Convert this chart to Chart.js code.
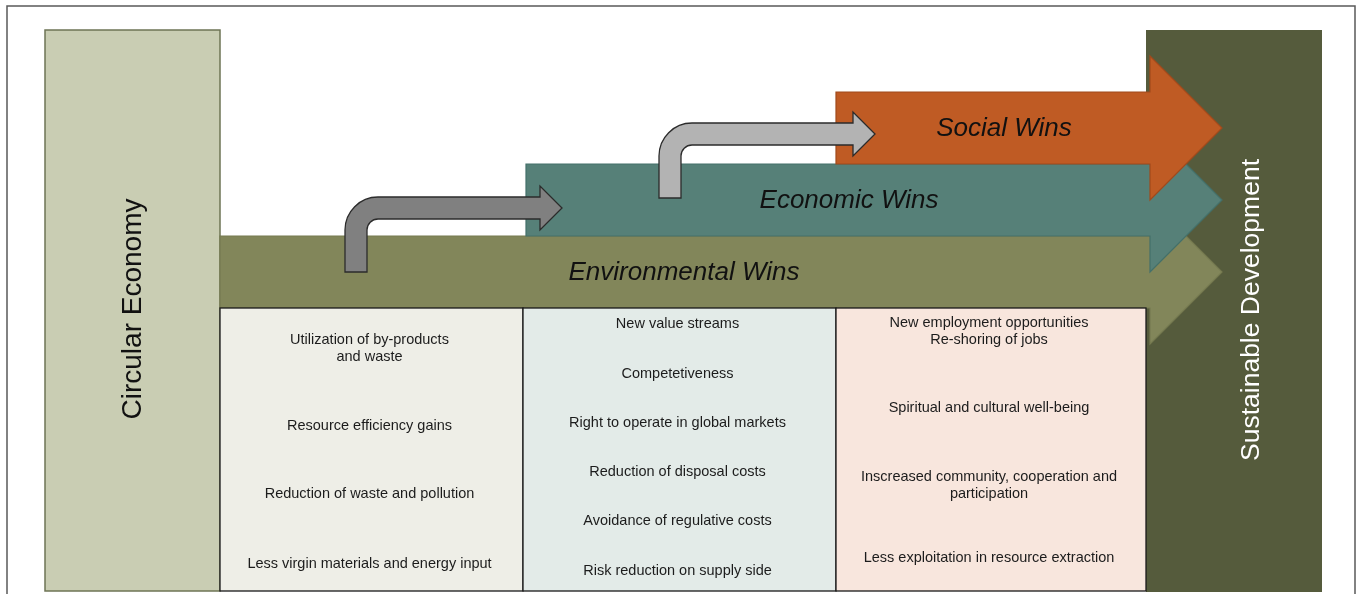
<!DOCTYPE html>
<html>
<head>
<meta charset="utf-8">
<script src="https://cdn.jsdelivr.net/npm/chart.js@4/dist/chart.umd.min.js"></script>
<style>
  html, body { margin: 0; padding: 0; background: #ffffff; }
  #wrap { width: 1357px; height: 594px; position: relative; }
</style>
</head>
<body>
<div id="wrap"><canvas id="myChart"></canvas></div>
<script>
// textos del diagrama
const sideLabels = ['Circular Economy', 'Sustainable Development']
const winLabels = ['Environmental Wins', 'Economic Wins', 'Social Wins']

const environmentalItems = [
    'Utilization of by-products\nand waste',
    'Resource efficiency gains',
    'Reduction of waste and pollution',
    'Less virgin materials and energy input'
]
const economicItems = [
    'New value streams',
    'Competetiveness',
    'Right to operate in global markets',
    'Reduction of disposal costs',
    'Avoidance of regulative costs',
    'Risk reduction on supply side'
]
const socialItems = [
    'New employment opportunities\nRe-shoring of jobs',
    'Spiritual and cultural well-being',
    'Inscreased community, cooperation and\nparticipation',
    'Less exploitation in resource extraction'
]

// posiciones (en unidades de la escala, 0..1357 x 0..594)
const layout = {
    frame: { x0: 7, y0: 6, x1: 1355, y1: 620 },
    leftBox: { x0: 45, y0: 30, x1: 220, y1: 591 },
    rightBox: { x0: 1146, y0: 30, x1: 1322, y1: 592 },
    bandStart: [220, 526, 836],
    bandCenter: [272, 200, 128],
    bandHalf: 36,
    headX: 1150,
    tipX: 1222,
    headHalf: 72,
    cellEdges: [220, 523, 836, 1146],
    cellTop: 308,
    cellBottom: 591,
    itemY: [
        [348.5, 426, 494, 564],
        [324, 374, 423, 472, 521, 571],
        [331.5, 408, 485.5, 558]
    ],
    lineGap: 17,
    labelX: [684, 849, 1004],
    bends: [
        { stemX: 345, baseY: 272, shaftY: 197, tipX: 562 },
        { stemX: 659, baseY: 198, shaftY: 123, tipX: 875 }
    ]
}

const colors = {
    left: '#c9cdb3', leftBorder: '#6e7455',
    right: '#555b3c',
    bands: ['#82865a', '#568078', '#bf5b24'],
    bandBorders: ['#767a50', '#44706a', '#a04a1c'],
    cells: ['#eeeee7', '#e3ebe8', '#f8e6dd'],
    bends: ['#808080', '#b3b3b3']
}

const FONT = '"Liberation Sans", Arial, sans-serif'

const diagramPlugin = {
    id: 'diagram',
    afterDraw(chart) {
        const ctx = chart.ctx
        const sx = chart.scales.x
        const sy = chart.scales.y
        const px = (v) => sx.getPixelForValue(v)
        const py = (v) => sy.getPixelForValue(v)

        ctx.save()

        // marco exterior
        ctx.strokeStyle = '#5a5a5a'
        ctx.lineWidth = 1.5
        ctx.beginPath()
        ctx.moveTo(px(layout.frame.x0), py(layout.frame.y1))
        ctx.lineTo(px(layout.frame.x0), py(layout.frame.y0))
        ctx.lineTo(px(layout.frame.x1), py(layout.frame.y0))
        ctx.lineTo(px(layout.frame.x1), py(layout.frame.y1))
        ctx.stroke()

        // caja izquierda
        const lb = layout.leftBox
        ctx.fillStyle = colors.left
        ctx.fillRect(px(lb.x0), py(lb.y0), px(lb.x1) - px(lb.x0), py(lb.y1) - py(lb.y0))
        ctx.strokeStyle = colors.leftBorder
        ctx.lineWidth = 1.5
        ctx.strokeRect(px(lb.x0), py(lb.y0), px(lb.x1) - px(lb.x0), py(lb.y1) - py(lb.y0))

        // caja derecha
        const rb = layout.rightBox
        ctx.fillStyle = colors.right
        ctx.fillRect(px(rb.x0), py(rb.y0), px(rb.x1) - px(rb.x0), py(rb.y1) - py(rb.y0))

        // flechas de beneficios
        winLabels.forEach((label, i) => {
            const x0 = layout.bandStart[i]
            const yc = layout.bandCenter[i]
            const h = layout.bandHalf
            const hh = layout.headHalf
            ctx.beginPath()
            ctx.moveTo(px(x0), py(yc - h))
            ctx.lineTo(px(layout.headX), py(yc - h))
            ctx.lineTo(px(layout.headX), py(yc - hh))
            ctx.lineTo(px(layout.tipX), py(yc))
            ctx.lineTo(px(layout.headX), py(yc + hh))
            ctx.lineTo(px(layout.headX), py(yc + h))
            ctx.lineTo(px(x0), py(yc + h))
            ctx.closePath()
            ctx.fillStyle = colors.bands[i]
            ctx.fill()
            ctx.strokeStyle = colors.bandBorders[i]
            ctx.lineWidth = 1.2
            ctx.stroke()
        })

        // tabla
        const cellItems = [environmentalItems, economicItems, socialItems]
        for (let i = 0; i < 3; i++) {
            const x0 = px(layout.cellEdges[i])
            const x1 = px(layout.cellEdges[i + 1])
            const y0 = py(layout.cellTop)
            const y1 = py(layout.cellBottom)
            ctx.fillStyle = colors.cells[i]
            ctx.fillRect(x0, y0, x1 - x0, y1 - y0)
            ctx.strokeStyle = '#1a1a1a'
            ctx.lineWidth = 1.3
            ctx.strokeRect(x0, y0, x1 - x0, y1 - y0)

            ctx.fillStyle = '#1c1c1c'
            ctx.font = '14.5px ' + FONT
            ctx.textAlign = 'center'
            ctx.textBaseline = 'middle'
            const cx = (x0 + x1) / 2 - 2
            cellItems[i].forEach((txt, j) => {
                const lines = txt.split('\n')
                const yc = layout.itemY[i][j]
                lines.forEach((ln, k) => {
                    const y = yc + (k - (lines.length - 1) / 2) * layout.lineGap
                    ctx.fillText(ln, cx, py(y))
                })
            })
        }

        // flechas grises dobladas
        layout.bends.forEach((b, i) => {
            const w = 22
            const ro = 33
            const ri = 11
            const headHalf = 22
            const headX = b.tipX - 22
            const L = px(b.stemX), R = px(b.stemX + w)
            const T = py(b.shaftY), B = py(b.shaftY + w)
            const mid = py(b.shaftY + w / 2)
            ctx.beginPath()
            ctx.moveTo(L, py(b.baseY))
            ctx.lineTo(L, T + ro)
            ctx.arcTo(L, T, L + ro, T, ro)
            ctx.lineTo(px(headX), T)
            ctx.lineTo(px(headX), mid - headHalf)
            ctx.lineTo(px(b.tipX), mid)
            ctx.lineTo(px(headX), mid + headHalf)
            ctx.lineTo(px(headX), B)
            ctx.lineTo(R + ri, B)
            ctx.arcTo(R, B, R, B + ri, ri)
            ctx.lineTo(R, py(b.baseY))
            ctx.closePath()
            ctx.fillStyle = colors.bends[i]
            ctx.fill()
            ctx.strokeStyle = '#2b2b2b'
            ctx.lineWidth = 1.3
            ctx.stroke()
        })

        // etiquetas de las flechas
        ctx.fillStyle = '#111111'
        ctx.font = 'italic 26px ' + FONT
        ctx.textAlign = 'center'
        ctx.textBaseline = 'middle'
        winLabels.forEach((label, i) => {
            ctx.fillText(label, px(layout.labelX[i]), py(layout.bandCenter[i] + 1))
        })

        // textos verticales
        ctx.font = '28px ' + FONT
        ctx.fillStyle = '#111111'
        ctx.save()
        ctx.translate(px(133), py(309))
        ctx.rotate(-Math.PI / 2)
        ctx.fillText(sideLabels[0], 0, 0)
        ctx.restore()

        ctx.font = '26.5px ' + FONT
        ctx.fillStyle = '#ffffff'
        ctx.save()
        ctx.translate(px(1252), py(310))
        ctx.rotate(-Math.PI / 2)
        ctx.fillText(sideLabels[1], 0, 0)
        ctx.restore()

        ctx.restore()
    }
}

const config = {
    type: 'scatter',
    data: { datasets: [{ data: [], showLine: false }] },
    options: {
        responsive: true,
        maintainAspectRatio: false,
        animation: false,
        layout: { padding: 0 },
        plugins: { legend: { display: false }, tooltip: { enabled: false } },
        scales: {
            x: { type: 'linear', min: 0, max: 1357, display: false },
            y: { type: 'linear', min: 0, max: 594, reverse: true, display: false }
        }
    },
    plugins: [diagramPlugin]
}

const ctx = document.getElementById('myChart').getContext('2d')
new Chart(ctx, config)
</script>
</body>
</html>
